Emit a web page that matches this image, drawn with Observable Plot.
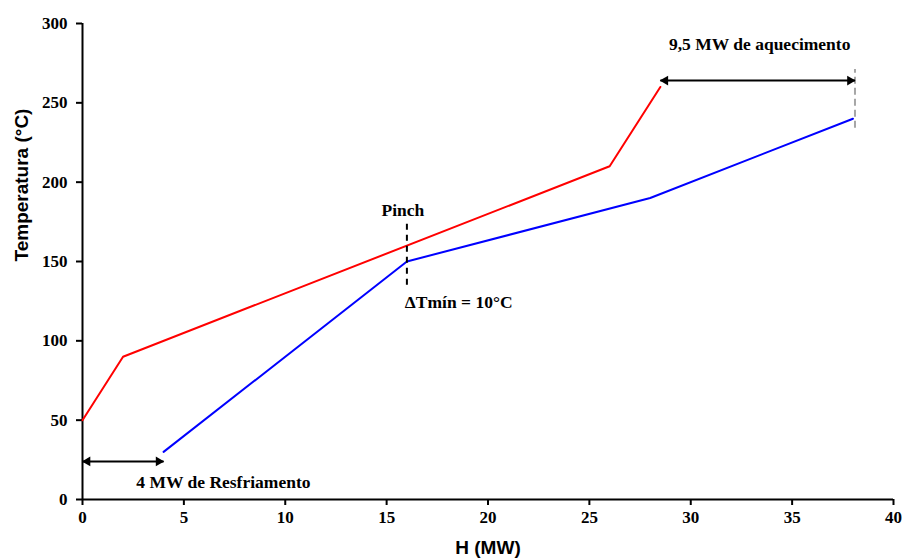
<!DOCTYPE html>
<html>
<head>
<meta charset="utf-8">
<script src="https://cdn.jsdelivr.net/npm/d3@7"></script>
<script src="https://cdn.jsdelivr.net/npm/@observablehq/plot@0.6"></script>
<style>
  html, body { margin: 0; padding: 0; background: #fff; }
  #chart { width: 902px; height: 560px; }
</style>
</head>
<body>
<div id="chart"></div>
<script>
// Hot composite curve (red)
const hotH = [0, 2, 26, 28.5];
const hotT = [50, 90, 210, 260];
// Cold composite curve (blue)
const coldH = [4, 16, 28, 38];
const coldT = [30, 150, 190, 240];
// Ticks
const xTicks = [0, 5, 10, 15, 20, 25, 30, 35, 40];
const yTicks = [0, 50, 100, 150, 200, 250, 300];
// Arrows (double-headed): [x1, x2, y]
const arrowX1 = [0, 28.5];
const arrowX2 = [4, 38.1];
const arrowY = [24, 264];
// Dashed markers
const pinchLine = {x: 16, y1: 135, y2: 176};
const heatLine = {x: 38.1, y1: 234, y2: 271};
// Annotation texts (centered)
const annText = ["4 MW de Resfriamento", "9,5 MW de aquecimento", "Pinch"];
const annX = [6.95, 33.4, 15.8];
const annY = [11, 287, 182];
// Annotation text (left-aligned)
const dtText = ["ΔTmín = 10°C"];
const dtX = [15.9];
const dtY = [124];

const hot = hotH.map((h, i) => ({h, t: hotT[i]}));
const cold = coldH.map((h, i) => ({h, t: coldT[i]}));
const arrows = arrowX1.map((x1, i) => ({x1, x2: arrowX2[i], y: arrowY[i]}));
const anns = annText.map((text, i) => ({text, x: annX[i], y: annY[i]}));
const dts = dtText.map((text, i) => ({text, x: dtX[i], y: dtY[i]}));

const serif = "'Liberation Serif', 'Times New Roman', serif";
const sans = "'Liberation Sans', Arial, sans-serif";

const chart = Plot.plot({
  width: 902,
  height: 560,
  marginLeft: 82,
  marginRight: 9,
  marginTop: 23,
  marginBottom: 61,
  style: {fontFamily: serif, background: "#fff", color: "#000"},
  x: {domain: [0, 40]},
  y: {domain: [0, 300]},
  marks: [
    Plot.axisX({ticks: xTicks, tickSize: 6, tickPadding: 5, strokeWidth: 2, label: null,
      fontSize: 17, fontWeight: "bold", fontFamily: serif, fill: "#000"}),
    Plot.axisY({ticks: yTicks, tickSize: 6, tickPadding: 9, strokeWidth: 2, label: null,
      fontSize: 17, fontWeight: "bold", fontFamily: serif, fill: "#000"}),
    Plot.ruleX([0], {y1: 0, y2: 300, stroke: "#000", strokeWidth: 2}),
    Plot.ruleY([0], {x1: 0, x2: 40, stroke: "#000", strokeWidth: 2}),
    Plot.line(hot, {x: "h", y: "t", stroke: "#ff0000", strokeWidth: 2}),
    Plot.line(cold, {x: "h", y: "t", stroke: "#0000ff", strokeWidth: 2}),
    Plot.ruleX([pinchLine], {x: "x", y1: "y1", y2: "y2", stroke: "#000", strokeWidth: 2, strokeDasharray: "6,5"}),
    Plot.ruleX([heatLine], {x: "x", y1: "y1", y2: "y2", stroke: "#a6a6a6", strokeWidth: 2, strokeDasharray: "7,4"}),
    Plot.link(arrows, {x1: "x1", x2: "x2", y1: "y", y2: "y", stroke: "#000", strokeWidth: 2, inset: 4}),
    Plot.dot(arrows, {x: "x1", y: "y", symbol: "triangle", r: 3.6, rotate: -90, dx: 5, fill: "#000", stroke: null}),
    Plot.dot(arrows, {x: "x2", y: "y", symbol: "triangle", r: 3.6, rotate: 90, dx: -5, fill: "#000", stroke: null}),
    Plot.text(anns, {x: "x", y: "y", text: "text", textAnchor: "middle", fontSize: 17.5, fontWeight: "bold", fontFamily: serif, fill: "#000"}),
    Plot.text(dts, {x: "x", y: "y", text: "text", textAnchor: "start", fontSize: 17.5, fontWeight: "bold", fontFamily: serif, fill: "#000"}),
    Plot.text(["Temperatura (°C)"], {frameAnchor: "left", rotate: -90, dx: -61, fontSize: 19, fontWeight: "bold", fontFamily: sans, fill: "#000"}),
    Plot.text(["H (MW)"], {frameAnchor: "bottom", dy: 54, fontSize: 19, fontWeight: "bold", fontFamily: sans, fill: "#000"})
  ]
});
document.getElementById("chart").appendChild(chart);
</script>
</body>
</html>
